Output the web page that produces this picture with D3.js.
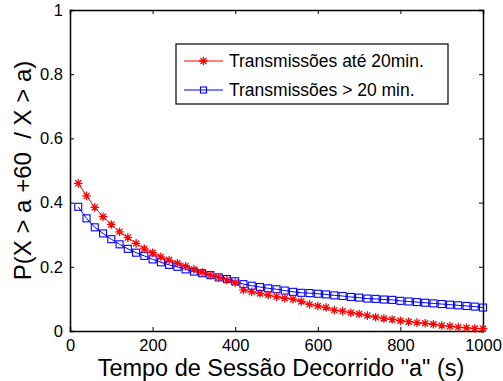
<!DOCTYPE html>
<html>
<head>
<meta charset="utf-8">
<script src="https://cdn.jsdelivr.net/npm/d3@7/dist/d3.min.js"></script>
<style>
  body { margin: 0; background: #fff; }
  text { font-family: "Liberation Sans", Arial, sans-serif; }
</style>
</head>
<body>
<div id="chart"></div>
<script>
// dados
const tempos = d3.range(20, 1001, 20);
const ate20 = [0.460, 0.421, 0.385, 0.356, 0.332, 0.309, 0.291, 0.273, 0.256, 0.244,
               0.231, 0.221, 0.211, 0.202, 0.192, 0.183, 0.174, 0.167, 0.159, 0.151,
               0.128, 0.122, 0.117, 0.112, 0.107, 0.102, 0.099, 0.092, 0.083, 0.078,
               0.073, 0.065, 0.062, 0.057, 0.053, 0.048, 0.043, 0.039, 0.036, 0.032,
               0.029, 0.026, 0.024, 0.021, 0.017, 0.015, 0.012, 0.010, 0.008, 0.007];
const mais20 = [0.387, 0.351, 0.323, 0.304, 0.286, 0.270, 0.256, 0.244, 0.234, 0.223,
                0.214, 0.206, 0.200, 0.192, 0.185, 0.180, 0.174, 0.167, 0.162, 0.155,
                0.146, 0.141, 0.137, 0.133, 0.130, 0.126, 0.122, 0.119, 0.118, 0.116,
                0.114, 0.111, 0.109, 0.106, 0.104, 0.101, 0.100, 0.098, 0.097, 0.094,
                0.092, 0.090, 0.088, 0.086, 0.084, 0.082, 0.080, 0.078, 0.076, 0.073];
const xTicks = [0, 200, 400, 600, 800, 1000];
const yTicks = [0, 0.2, 0.4, 0.6, 0.8, 1];
const legenda = ["Transmissões até 20min.", "Transmissões > 20 min."];

const W = 503, H = 381;
const m = { left: 70, right: 20, top: 10, bottom: 50 };

const svg = d3.select("#chart").append("svg")
  .attr("width", W).attr("height", H);

const x = d3.scaleLinear().domain([0, 1000]).range([m.left, W - m.right]);
const y = d3.scaleLinear().domain([0, 1]).range([H - m.bottom, m.top]);

// eixos (ticks para dentro, estilo matlab)
const fmt = d => d3.format("")(d);
svg.append("g").attr("transform", `translate(0,${y(0)})`)
  .call(d3.axisBottom(x).tickValues(xTicks).tickSize(-4).tickPadding(8).tickFormat(fmt));
svg.append("g").attr("transform", `translate(${x(0)},0)`)
  .call(d3.axisLeft(y).tickValues(yTicks).tickSize(-4).tickPadding(7).tickFormat(fmt));
svg.append("g").attr("transform", `translate(0,${y(1)})`)
  .call(d3.axisTop(x).tickValues(xTicks).tickSize(-4).tickFormat(""));
svg.append("g").attr("transform", `translate(${x(1000)},0)`)
  .call(d3.axisRight(y).tickValues(yTicks).tickSize(-4).tickFormat(""));

svg.selectAll(".domain").attr("stroke", "#000").attr("stroke-width", 1.5);
svg.selectAll(".tick line").attr("stroke", "#000");
svg.selectAll(".tick text").attr("font-size", 16.5).attr("fill", "#000")
  .attr("font-family", "Liberation Sans, Arial, sans-serif");

const line = d3.line().x(d => x(d[0])).y(d => y(d[1]));

function asterisco(g, cx, cy, cor) {
  const r = 4.3, s = r * 0.7;
  g.append("path")
    .attr("d", `M${cx - r},${cy}H${cx + r}M${cx},${cy - r}V${cy + r}` +
               `M${cx - s},${cy - s}L${cx + s},${cy + s}M${cx - s},${cy + s}L${cx + s},${cy - s}`)
    .attr("stroke", cor).attr("stroke-width", 1.3).attr("fill", "none");
}
function quadrado(g, cx, cy, cor, r) {
  g.append("rect").attr("x", cx - r).attr("y", cy - r)
    .attr("width", 2 * r).attr("height", 2 * r)
    .attr("fill", "none").attr("stroke", cor).attr("stroke-width", 1.1);
}

const dadosA = tempos.map((t, i) => [t, ate20[i]]);
const dadosB = tempos.map((t, i) => [t, mais20[i]]);

svg.append("path").datum(dadosB).attr("d", line)
  .attr("fill", "none").attr("stroke", "#0000ff").attr("stroke-width", 1);
const gB = svg.append("g");
dadosB.forEach(d => quadrado(gB, x(d[0]), y(d[1]), "#0000ff", 3.5));

svg.append("path").datum(dadosA).attr("d", line)
  .attr("fill", "none").attr("stroke", "#ff0000").attr("stroke-width", 1);
const gA = svg.append("g");
dadosA.forEach(d => asterisco(gA, x(d[0]), y(d[1]), "#ff0000"));

// legenda
const lg = svg.append("g");
lg.append("rect").attr("x", 176).attr("y", 44).attr("width", 272).attr("height", 60)
  .attr("fill", "#fff").attr("stroke", "#000").attr("stroke-width", 1.2);
const linhasLeg = [{ cor: "#ff0000", yy: 61 }, { cor: "#0000ff", yy: 90 }];
linhasLeg.forEach((l, i) => {
  lg.append("line").attr("x1", 184).attr("x2", 223).attr("y1", l.yy).attr("y2", l.yy)
    .attr("stroke", l.cor).attr("stroke-width", 1);
  if (i === 0) asterisco(lg, 203.5, l.yy, l.cor);
  else quadrado(lg, 203.5, l.yy, l.cor, 3);
  lg.append("text").attr("x", 229).attr("y", l.yy + 6)
    .attr("font-size", 17.5).text(legenda[i]);
});

// rótulos dos eixos
svg.append("text").attr("x", 281).attr("y", 376).attr("text-anchor", "middle")
  .attr("font-size", 23.5).text("Tempo de Sessão Decorrido \"a\" (s)");
svg.append("text").attr("transform", `translate(31,${y(0.5)}) rotate(-90)`)
  .attr("text-anchor", "middle").attr("font-size", 24)
  .style("white-space", "pre")
  .text("P(X > a +60  / X > a)");
</script>
</body>
</html>
